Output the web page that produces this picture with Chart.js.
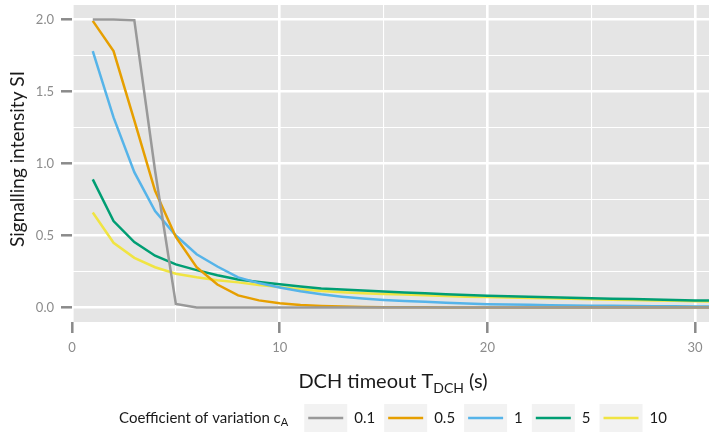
<!DOCTYPE html>
<html>
<head>
<meta charset="utf-8">
<script src="https://cdn.jsdelivr.net/npm/chart.js@4.4.1/dist/chart.umd.min.js"></script>
<style>
  html, body { margin: 0; padding: 0; background: #ffffff; }
  #wrap { width: 709px; height: 433px; position: relative; }
</style>
</head>
<body>
<div id="wrap"><canvas id="c" width="709" height="433"></canvas></div>
<script>
// ---- data ----
const timeouts = [1,2,3,4,5,6,7,8,9,10,11,12,13,14,15,16,17,18,19,20,21,22,23,24,25,26,27,28,29,30,31];
const seriesLabels = ['0.1', '0.5', '1', '5', '10'];
const cv01 = [2.0,2.0,1.995,0.95,0.025,0.0,0.0,0.0,0.0,0.0,0.0,0.0,0.0,0.0,0.0,0.0,0.0,0.0,0.0,0.0,0.0,0.0,0.0,0.0,0.0,0.0,0.0,0.0,0.0,0.0,0.0];
const cv05 = [1.99,1.78,1.30,0.81,0.49,0.28,0.16,0.085,0.05,0.03,0.018,0.011,0.007,0.004,0.003,0.002,0.0015,0.001,0.001,0.0008,0.0006,0.0005,0.0004,0.0003,0.0003,0.0002,0.0002,0.0001,0.0001,0.0001,0.0001];
const cv1  = [1.78,1.32,0.94,0.67,0.50,0.37,0.285,0.21,0.17,0.14,0.113,0.092,0.076,0.063,0.053,0.046,0.040,0.034,0.029,0.024,0.021,0.019,0.017,0.015,0.013,0.012,0.011,0.010,0.009,0.008,0.008];
const cv5  = [0.89,0.60,0.455,0.36,0.30,0.26,0.225,0.195,0.177,0.162,0.146,0.133,0.125,0.118,0.112,0.105,0.099,0.093,0.087,0.082,0.078,0.075,0.071,0.068,0.065,0.062,0.059,0.056,0.053,0.050,0.048];
const cv10 = [0.66,0.45,0.345,0.28,0.235,0.21,0.19,0.175,0.157,0.142,0.127,0.115,0.107,0.100,0.095,0.090,0.085,0.080,0.076,0.073,0.070,0.067,0.064,0.061,0.058,0.055,0.053,0.050,0.047,0.044,0.042];
const xTickLabels = ['0', '10', '20', '30'];
const yTickLabels = ['0.0', '0.5', '1.0', '1.5', '2.0'];

const colors = ['#999999', '#E69F00', '#56B4E9', '#009E73', '#F0E442'];
const allSeries = [cv01, cv05, cv1, cv5, cv10];
const FONT = 'Lato, "Open Sans", sans-serif';

const datasets = allSeries.map((vals, i) => ({
  label: seriesLabels[i],
  data: timeouts.map((t, k) => ({ x: t, y: vals[k] })),
  borderColor: colors[i],
  backgroundColor: colors[i],
  borderWidth: 2.5,
  pointRadius: 0,
  tension: 0,
  fill: false
}));

function isMult(v, step) { return Math.abs(v / step - Math.round(v / step)) < 1e-9; }

const decor = {
  id: 'decor',
  beforeDraw(chart) {
    const { ctx, chartArea: a } = chart;
    ctx.save();
    ctx.fillStyle = '#e5e5e5';
    ctx.fillRect(a.left, a.top, a.right - a.left, a.bottom - a.top);
    ctx.restore();
  },
  afterDraw(chart) {
    const { ctx } = chart;
    ctx.save();
    ctx.fillStyle = '#1a1a1a';
    ctx.textBaseline = 'alphabetic';
    // x axis title with subscript
    const big = '20px ' + FONT, sub = '14px ' + FONT;
    const parts = [['DCH timeout T', big, 0], ['DCH', sub, 5], [' (s)', big, 0]];
    let w = 0;
    parts.forEach(p => { ctx.font = p[1]; w += ctx.measureText(p[0]).width; });
    let x = 393 - w / 2;
    parts.forEach(p => { ctx.font = p[1]; ctx.fillText(p[0], x, 388 + p[2]); x += ctx.measureText(p[0]).width; });
    // y axis title
    ctx.save();
    ctx.translate(24, 159);
    ctx.rotate(-Math.PI / 2);
    ctx.font = '19px ' + FONT;
    ctx.textAlign = 'center';
    ctx.fillText('Signalling intensity SI', 0, 0);
    ctx.restore();
    // legend
    const tFont = '15px ' + FONT, tSub = '11px ' + FONT;
    const base = 423;
    const keyW = 43, keyH = 28, gapLab = 7, gapItem = 9, gapTitle = 16;
    ctx.font = tFont; const tw1 = ctx.measureText('Coefficient of variation c').width;
    ctx.font = tSub; const tw2 = ctx.measureText('A').width;
    let total = tw1 + tw2 + gapTitle;
    ctx.font = tFont;
    const labW = seriesLabels.map(s => ctx.measureText(s).width);
    labW.forEach((lw, i) => { total += keyW + gapLab + lw + (i < labW.length - 1 ? gapItem : 0); });
    let lx = 393 - total / 2;
    ctx.textAlign = 'left';
    ctx.font = tFont; ctx.fillText('Coefficient of variation c', lx, base); lx += tw1;
    ctx.font = tSub; ctx.fillText('A', lx, base + 3); lx += tw2 + gapTitle;
    chart.data.datasets.forEach((ds, i) => {
      const ky = 404;
      ctx.fillStyle = '#f2f2f2';
      ctx.fillRect(lx, ky, keyW, keyH);
      ctx.strokeStyle = ds.borderColor;
      ctx.lineWidth = 2.5;
      ctx.beginPath(); ctx.moveTo(lx + 4, ky + keyH / 2); ctx.lineTo(lx + keyW - 4, ky + keyH / 2); ctx.stroke();
      lx += keyW + gapLab;
      ctx.fillStyle = '#1a1a1a';
      ctx.font = tFont;
      ctx.fillText(ds.label, lx, base);
      lx += labW[i] + gapItem;
    });
    ctx.restore();
  }
};

new Chart(document.getElementById('c'), {
  type: 'line',
  data: { datasets },
  plugins: [decor],
  options: {
    responsive: false,
    animation: false,
    devicePixelRatio: 1,
    layout: { padding: { top: 5, left: 0, right: 0, bottom: 0 } },
    plugins: { legend: { display: false }, tooltip: { enabled: false } },
    scales: {
      x: {
        type: 'linear',
        min: 0, max: 30.67,
        border: { display: false },
        grid: {
          color: '#ffffff',
          lineWidth: c => (c.tick && isMult(c.tick.value, 10)) ? 2.6 : 1.1,
          tickColor: c => (c.tick && isMult(c.tick.value, 10)) ? '#8a8a8a' : 'rgba(0,0,0,0)',
          tickLength: 11,
          tickWidth: 2.5
        },
        ticks: {
          stepSize: 5,
          includeBounds: false,
          autoSkip: false,
          maxRotation: 0,
          padding: 7,
          color: '#8c8c8c',
          font: { family: FONT, size: 13 },
          callback: v => isMult(v, 10) ? xTickLabels[Math.round(v / 10)] : ''
        },
        afterFit: s => { s.height = 111; s.paddingLeft = 0; s.paddingRight = 0; }
      },
      y: {
        type: 'linear',
        min: -0.1, max: 2.1,
        border: { display: false },
        grid: {
          color: '#ffffff',
          lineWidth: c => (c.tick && isMult(c.tick.value, 0.5)) ? 2.6 : 1.1,
          tickColor: c => (c.tick && isMult(c.tick.value, 0.5)) ? '#8a8a8a' : 'rgba(0,0,0,0)',
          tickLength: 11,
          tickWidth: 2.5
        },
        ticks: {
          stepSize: 0.25,
          includeBounds: false,
          autoSkip: false,
          padding: 7,
          color: '#8c8c8c',
          font: { family: FONT, size: 13 },
          callback: v => isMult(v, 0.5) ? yTickLabels[Math.round(v / 0.5)] : ''
        },
        afterFit: s => { s.width = 72; s.paddingTop = 0; s.paddingBottom = 0; }
      }
    }
  }
});
</script>
</body>
</html>
